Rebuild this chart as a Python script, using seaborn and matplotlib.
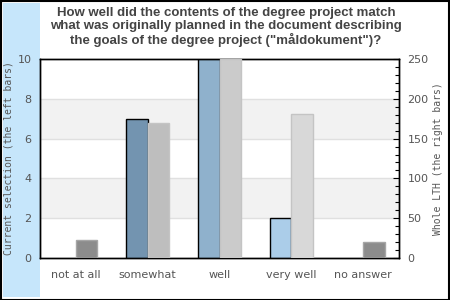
import numpy as np
import pandas as pd
import matplotlib
matplotlib.use("Agg")
import matplotlib.pyplot as plt
from matplotlib.patches import Rectangle
import seaborn as sns

categories = ["not at all", "somewhat", "well", "very well", "no answer"]
current_selection = [0, 7, 10, 2, 0]
whole_lth = [23, 170, 250, 181, 20]

left_colors = ["#7394b0", "#7394b0", "#8fb1cc", "#abcde9", "#abcde9"]
right_colors = ["#8c8c8c", "#bebebe", "#cbcbcb", "#d8d8d8", "#8c8c8c"]
right_edges = ["#a6a6a6", "#c4c4c4", "#c4c4c4", "#c4c4c4", "#a6a6a6"]

title = ('How well did the contents of the degree project match\n'
         'what was originally planned in the document describing\n'
         'the goals of the degree project ("måldokument")?')

sns.set_style("white")
plt.rcParams["font.family"] = ["DejaVu Sans"]

fig = plt.figure(figsize=(4.5, 3.0), dpi=100)
# blue strip at left (behind axes)
fig.patches.append(Rectangle((3/450, 3/300), 37/450, 294/300, transform=fig.transFigure,
                             facecolor="#c6e6fb", edgecolor="none", zorder=-5))
# border
fig.patches.append(Rectangle((0.5/450, 0.5/300), 448.5/450, 298.5/300, transform=fig.transFigure,
                             facecolor="none", edgecolor="black", linewidth=1.5, zorder=5))

ax = fig.add_axes([40/450, 42/300, 359/450, 199/300])
ax2 = ax.twinx()

n = len(categories)
df_left = pd.DataFrame({"cat": categories, "series": "left", "val": current_selection})
df_left_pad = pd.DataFrame({"cat": categories, "series": "right", "val": [np.nan]*n})
df_right = pd.DataFrame({"cat": categories, "series": "right", "val": whole_lth})
df_right_pad = pd.DataFrame({"cat": categories, "series": "left", "val": [np.nan]*n})

dl = pd.concat([df_left, df_left_pad], ignore_index=True)
dr = pd.concat([df_right_pad, df_right], ignore_index=True)

sns.barplot(data=dl, x="cat", y="val", hue="series", hue_order=["left", "right"],
            order=categories, ax=ax, width=0.6, dodge=True, legend=False,
            palette=["#7394b0", "#cccccc"], errorbar=None)
sns.barplot(data=dr, x="cat", y="val", hue="series", hue_order=["left", "right"],
            order=categories, ax=ax2, width=0.6, dodge=True, legend=False,
            palette=["#7394b0", "#cccccc"], errorbar=None)

def styled(axis, colors, edges, lw):
    pats = [p for p in axis.patches if np.isfinite(p.get_height())]
    for p in pats:
        cx = p.get_x() + p.get_width() / 2
        i = int(np.clip(np.round(cx), 0, n - 1))
        p.set_facecolor(colors[i])
        if p.get_height() <= 0:
            p.set_edgecolor("none")
            p.set_linewidth(0)
        else:
            p.set_edgecolor(edges[i])
            p.set_linewidth(lw)
        p.set_zorder(3)

styled(ax, left_colors, ["black"]*n, 1.0)
styled(ax2, right_colors, right_edges, 1.0)

ax.set_ylim(0, 10)
ax2.set_ylim(0, 250)
ax.set_xlim(-0.5, n - 0.5)

# bands and grid
for lo in (2, 6):
    ax.axhspan(lo, lo + 2, color="#f2f2f2", zorder=0, linewidth=0)
for y in (2, 4, 6, 8):
    ax.axhline(y, color="#e0e0e0", linewidth=1, zorder=1)

ax.set_yticks([0, 2, 4, 6, 8, 10])
ax2.set_yticks([0, 50, 100, 150, 200, 250])
ax2.set_yticks(np.arange(0, 251, 10), minor=True)

tick_color = "#555555"
ax.tick_params(axis="y", length=0, pad=6, labelsize=8, labelcolor=tick_color)
ax.tick_params(axis="x", length=0, pad=9, labelsize=8, labelcolor=tick_color)
ax2.tick_params(axis="y", which="major", direction="in", length=4, width=0.8,
                pad=6, labelsize=8, labelcolor=tick_color, color="black")
ax2.tick_params(axis="y", which="minor", direction="in", length=3, width=0.8, color="black")

ax.set_xlabel("")
ax.set_ylabel("Current selection (the left bars)", family="DejaVu Sans Mono",
              fontsize=7, color=tick_color, labelpad=3)
ax2.set_ylabel("Whole LTH (the right bars)", family="DejaVu Sans Mono",
               fontsize=7, color=tick_color, labelpad=3)

for a in (ax, ax2):
    for s in a.spines.values():
        s.set_visible(True)
        s.set_color("black")
        s.set_linewidth(1)

ax.set_facecolor("white")
ax2.patch.set_visible(False)

fig.text(0.502, 0.978, title, ha="center", va="top", fontsize=9.5, fontweight="bold",
         family="Liberation Sans", color="#444444", linespacing=1.12)

fig.savefig("out.png", dpi=100)
